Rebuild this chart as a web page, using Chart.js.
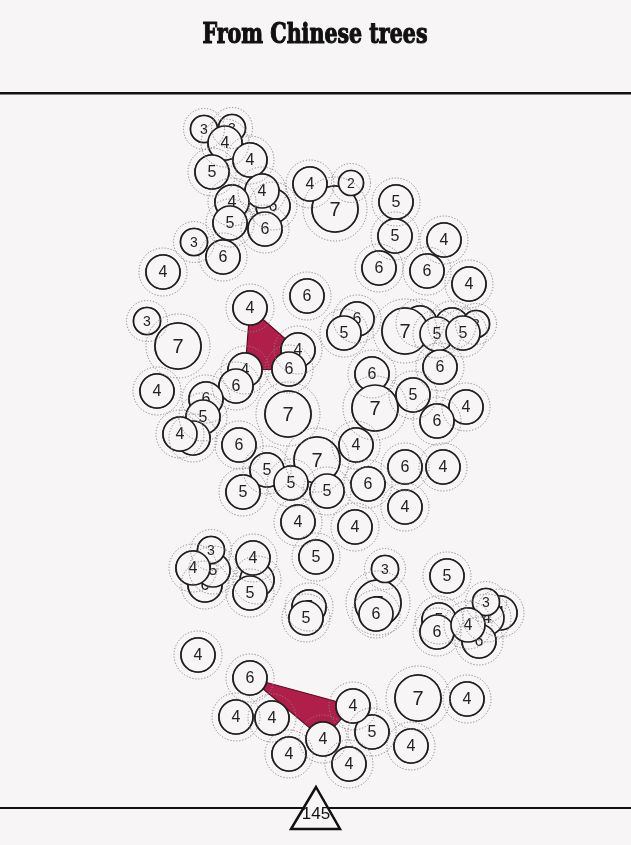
<!DOCTYPE html>
<html><head><meta charset="utf-8">
<script src="https://cdn.jsdelivr.net/npm/chart.js@4/dist/chart.umd.min.js"></script>
<style>html,body{margin:0;padding:0;background:#f7f5f6;}#wrap{position:relative;width:631px;height:845px;}</style>
</head><body><div id="wrap"><canvas id="c" width="631" height="845"></canvas></div>
<script>
const chartTitle = "From Chinese trees";
const pageNumber = "145";
// circle positions (layout units), listed in drawing order (back to front)
const xs = [232,204,225,250,212,273,262,232,230,265,194,223,163,335,310,351,396,395,444,379,427,469,307,
  147,178,157,250,298,245,289,236,206,203,193,180,288,
  357,344,420,405,452,476,437,463,440,372,375,413,466,437,
  239,356,317,267,243,291,327,298,405,443,368,405,355,
  316,205,213,211,193,257,253,250,309,306,
  378,385,376,447,439,500,487,479,486,437,468,
  198,250,236,272,289,349,323,372,353,418,467,411];
const ys = [128,129,143,160,172,206,191,202,223,229,242,257,272,209,184,183,202,236,240,268,271,284,296,
  321,346,391,308,350,370,369,386,399,417,438,434,414,
  319,333,323,331,325,324,334,333,367,374,408,395,407,421,
  445,445,460,470,492,483,491,522,467,467,484,507,527,
  557,585,570,550,568,580,558,593,607,618,
  603,569,614,576,620,613,618,641,602,632,625,
  655,678,717,718,754,764,739,732,706,698,699,746];
const values = [3,3,4,4,5,6,4,4,5,6,3,6,4,7,4,2,5,5,4,6,6,4,6,
  3,7,4,4,4,4,6,6,6,5,4,4,7,
  6,5,4,7,4,3,5,5,6,6,7,5,4,6,
  6,4,7,5,5,5,5,4,6,4,6,4,4,
  5,6,5,3,4,5,4,5,5,5,
  7,3,6,5,5,4,4,6,3,6,4,
  4,6,4,4,4,4,4,5,4,7,4,4];
// highlighted groups (0 = none)
const groups = [0,0,0,0,0,0,0,0,0,0,0,0,0,0,0,0,0,0,0,0,0,0,0,
  0,0,0,1,1,1,1,0,0,0,0,0,0,
  0,0,0,0,0,0,0,0,0,0,0,0,0,0,
  0,0,0,0,0,0,0,0,0,0,0,0,0,
  0,0,0,0,0,0,0,0,0,0,
  0,0,0,0,0,0,0,0,0,0,0,
  0,2,0,0,0,0,2,0,2,0,0,0];

const BG = '#f7f5f6';
const radiusFor = v => ({2:12.5,3:13.5,4:17,5:17,6:17,7:23})[v] || 17;
const ringFor = v => radiusFor(v) + (v >= 7 ? 9 : 7);
const fontFor = v => v <= 3 ? 14 : (v >= 7 ? 20 : 16);

function hull(pts){
  pts = pts.slice().sort((a,b)=>a.x-b.x||a.y-b.y);
  const cr=(o,a,b)=>(a.x-o.x)*(b.y-o.y)-(a.y-o.y)*(b.x-o.x);
  const lo=[],up=[];
  for(const p of pts){while(lo.length>=2&&cr(lo[lo.length-2],lo[lo.length-1],p)<=0)lo.pop();lo.push(p);}
  for(let i=pts.length-1;i>=0;i--){const p=pts[i];while(up.length>=2&&cr(up[up.length-2],up[up.length-1],p)<=0)up.pop();up.push(p);}
  up.pop();lo.pop();return lo.concat(up);
}

const deco = {
  id:'deco',
  beforeDraw(chart){
    const c = chart.ctx;
    c.save();
    c.fillStyle = BG; c.fillRect(0,0,chart.width,chart.height);
    // title
    c.fillStyle = '#111'; c.strokeStyle = '#111'; c.lineWidth = 1.1; c.lineJoin='round';
    c.font = 'bold 28px "DejaVu Serif Condensed","DejaVu Serif",serif';
    c.textAlign='center'; c.textBaseline='alphabetic';
    const w = c.measureText(chartTitle).width;
    const sx = 225 / w;
    c.translate(315, 43); c.scale(sx, 1);
    c.fillText(chartTitle, 0, 0);
    c.strokeText(chartTitle, 0, 0);
    c.restore();
    c.save();
    c.fillStyle = '#111';
    c.fillRect(0, 92, chart.width, 2.5);
    c.fillRect(0, 807, chart.width, 2);
    c.restore();
  },
  beforeDatasetsDraw(chart){
    const meta = chart.getDatasetMeta(0);
    const c = chart.ctx;
    [1,2].forEach(g=>{
      const pts = [];
      meta.data.forEach((el,i)=>{ if(groups[i]===g) pts.push({x:el.x,y:el.y}); });
      if(pts.length<3) return;
      const h = hull(pts);
      c.save();
      c.beginPath();
      h.forEach((p,i)=> i? c.lineTo(p.x,p.y): c.moveTo(p.x,p.y));
      c.closePath();
      c.fillStyle='#b01f4a'; c.strokeStyle='#5e0e24'; c.lineWidth=1.2;
      c.fill(); c.stroke();
      c.restore();
    });
  },
  afterDatasetsDraw(chart){
    const meta = chart.getDatasetMeta(0);
    const c = chart.ctx;
    c.save();
    meta.data.forEach((el,i)=>{
      const r = el.options.radius;
      c.beginPath(); c.arc(el.x, el.y, r, 0, Math.PI*2);
      c.fillStyle = BG; c.fill();
      c.lineWidth = 1.7; c.strokeStyle = '#1e1e1e'; c.stroke();
      c.fillStyle = '#222';
      c.font = fontFor(values[i]) + 'px "Liberation Sans", Arial, sans-serif';
      c.textAlign='center'; c.textBaseline='middle';
      c.fillText(String(values[i]), el.x, el.y + 1);
    });
    // dotted rings on top
    c.setLineDash([1.2,1.8]);
    c.lineWidth = 1; c.strokeStyle = '#858585';
    meta.data.forEach((el,i)=>{
      c.beginPath(); c.arc(el.x, el.y, ringFor(values[i]), 0, Math.PI*2); c.stroke();
    });
    c.setLineDash([]);
    // page-number triangle
    c.beginPath();
    c.moveTo(316,787); c.lineTo(340,829); c.lineTo(291,829); c.closePath();
    c.fillStyle = BG; c.fill();
    c.lineWidth = 2.5; c.strokeStyle = '#111'; c.lineJoin='miter'; c.stroke();
    c.fillStyle = '#111';
    c.font = '17px "Liberation Sans", Arial, sans-serif';
    c.textAlign='center'; c.textBaseline='middle';
    c.fillText(pageNumber, 316, 814);
    c.restore();
  }
};

new Chart(document.getElementById('c'), {
  type:'bubble',
  data:{datasets:[{
    data: xs.map((x,i)=>({x:x, y:ys[i], r:radiusFor(values[i])})),
    backgroundColor: BG, borderColor:'#222', borderWidth:1.5, hoverRadius:0
  }]},
  options:{
    responsive:false, animation:false, events:[],
    layout:{padding:0, autoPadding:false},
    plugins:{legend:{display:false}, tooltip:{enabled:false}, title:{display:false}},
    scales:{
      x:{type:'linear', min:0, max:631, display:false},
      y:{type:'linear', min:0, max:845, reverse:true, display:false}
    }
  },
  plugins:[deco]
});
</script></body></html>
